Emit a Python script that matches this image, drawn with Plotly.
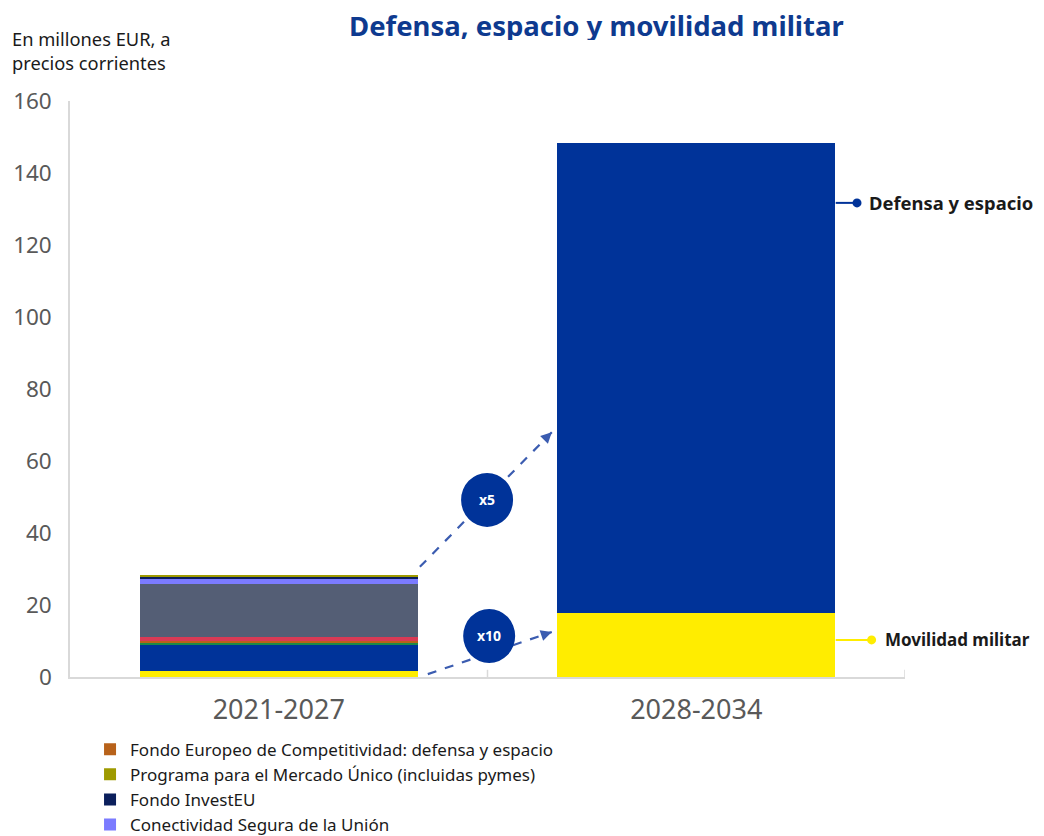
import plotly.graph_objects as go

categories = ["2021-2027", "2028-2034"]

# Stacked series, bottom to top (values in EUR bn)
movilidad_militar = [1.7, 17.7]
defensa_espacio_2028 = [None, 130.6]
fondo_defensa = [7.4, None]
serie_verde = [0.45, None]
fondo_competitividad = [0.45, None]
serie_roja = [1.1, None]
programa_espacial = [14.6, None]
conectividad_segura = [1.6, None]
fondo_investeu = [0.75, None]
mercado_unico = [0.4, None]

y_ticks = [0, 20, 40, 60, 80, 100, 120, 140, 160]

FONT = "Noto Sans"
BLUE = "#003399"
YELLOW = "#FFED00"
GREY_TXT = "#595959"

series = [
    ("Movilidad militar", movilidad_militar, YELLOW, False, None),
    ("Defensa y espacio", defensa_espacio_2028, BLUE, False, None),
    ("Fondo Europeo de Defensa", fondo_defensa, BLUE, False, None),
    ("Otros", serie_verde, "#1E8A45", False, None),
    ("Fondo Europeo de Competitividad: defensa y espacio", fondo_competitividad, "#B8621A", True, 1),
    ("Otros programas", serie_roja, "#D93A55", False, None),
    ("Programa Espacial", programa_espacial, "#545E75", False, None),
    ("Conectividad Segura de la Unión", conectividad_segura, "#7B7BFF", True, 4),
    ("Fondo InvestEU", fondo_investeu, "#0B1F5C", True, 3),
    ("Programa para el Mercado Único (incluidas pymes)", mercado_unico, "#9E9A00", True, 2),
]

fig = go.Figure()
for name, vals, color, show, rank in series:
    fig.add_trace(go.Bar(
        x=[0, 1], y=vals, name=name, marker=dict(color=color, line=dict(width=0)),
        showlegend=show, legendrank=rank if rank else 1000, hoverinfo="skip",
    ))

# page body has an 8px margin, so the figure is 8px smaller and shifted
fig.update_layout(
    barmode="stack",
    bargap=0.334,
    width=1036, height=828,
    margin=dict(l=62, r=139, t=93, b=159, autoexpand=False),
    plot_bgcolor="white", paper_bgcolor="white",
    font=dict(family=FONT, color="#1a1a1a"),
    showlegend=True,
    legend=dict(x=0.024, y=-0.095, xanchor="left", yanchor="top",
                orientation="v", traceorder="normal",
                font=dict(size=17, color="#1a1a1a", family=FONT),
                tracegroupgap=0, itemclick=False, bgcolor="rgba(0,0,0,0)"),
    xaxis=dict(range=[-0.5, 1.5], tickmode="array", tickvals=[0, 1], ticktext=categories,
               showline=True, linecolor="#d9d9d9", linewidth=1.5,
               ticks="", showgrid=False, zeroline=False,
               tickfont=dict(size=27, color=GREY_TXT), ticklabelstandoff=8),
    yaxis=dict(range=[0, 160], tickvals=y_ticks, showline=True, linecolor="#d9d9d9",
               linewidth=1.5, showgrid=False, zeroline=False, ticks="",
               tickfont=dict(size=22.5, color=GREY_TXT), ticklabelstandoff=12),
)

# boundary ticks on x axis (pointing up)
for xb in [0.5, 1.5]:
    fig.add_shape(type="line", xref="x", yref="y", x0=xb, x1=xb, y0=0, y1=2.0,
                  line=dict(color="#d9d9d9", width=1.5))

# Title and axis unit
fig.add_annotation(text="<b>Defensa, espacio y movilidad militar</b>", xref="paper", yref="paper",
                   x=(596 - 70) / 835, y=1 + (101 - 24.5) / 576, xanchor="center", yanchor="middle",
                   height=30, valign="middle",
                   showarrow=False, font=dict(size=27.5, color="#0E3A8F", family=FONT))
fig.add_annotation(text="En millones EUR, a<br>precios corrientes", xref="paper", yref="paper",
                   x=-(70 - 10) / 835, y=1 + (101 - 24) / 576, xanchor="left", yanchor="top",
                   align="left", showarrow=False, font=dict(size=18.3, color="#1a1a1a", family=FONT))

# Right-hand labels
lab_blue_y = 131.7
lab_yel_y = 10.3
fig.add_shape(type="line", xref="x", yref="y", x0=1.334, x1=1.385, y0=lab_blue_y, y1=lab_blue_y,
              line=dict(color=BLUE, width=2))
fig.add_trace(go.Scatter(x=[1.385], y=[lab_blue_y], mode="markers", marker=dict(color=BLUE, size=9),
                         showlegend=False, hoverinfo="skip", cliponaxis=False))
fig.add_annotation(text="<b>Defensa y espacio</b>", xref="x", yref="y", x=1.410, y=lab_blue_y,
                   xanchor="left", yanchor="middle", showarrow=False,
                   font=dict(size=18.4, color="#1a1a1a", family=FONT))
fig.add_shape(type="line", xref="x", yref="y", x0=1.334, x1=1.42, y0=lab_yel_y, y1=lab_yel_y,
              line=dict(color=YELLOW, width=2))
fig.add_trace(go.Scatter(x=[1.42], y=[lab_yel_y], mode="markers", marker=dict(color=YELLOW, size=9),
                         showlegend=False, hoverinfo="skip", cliponaxis=False))
fig.add_annotation(text="<b>Movilidad militar</b>", xref="x", yref="y", x=1.447, y=lab_yel_y,
                   xanchor="left", yanchor="middle", showarrow=False,
                   font=dict(size=17, color="#1a1a1a", family=FONT))

# Dashed growth arrows
ARROW = "#3B5CB0"
arrows = [((0.338, 30.6), (0.654, 68.0), (-8, 8)), ((0.357, 0.8), (0.654, 12.5), (-9.5, 3.2))]
for (x0, y0), (x1, y1), (ax, ay) in arrows:
    fig.add_shape(type="line", xref="x", yref="y", x0=x0, y0=y0, x1=x1, y1=y1,
                  line=dict(color=ARROW, width=2.2, dash="dash"))
    fig.add_annotation(x=x1, y=y1, xref="x", yref="y", ax=ax, ay=ay, text="", showarrow=True,
                       arrowhead=2, arrowsize=1.1, arrowwidth=2, arrowcolor=ARROW)

# Multiplier circles
for cx, cy, label in [(0.499, 49.2, "x5"), (0.504, 11.4, "x10")]:
    fig.add_shape(type="circle", xref="x", yref="y", xsizemode="pixel", ysizemode="pixel",
                  xanchor=cx, yanchor=cy, x0=-26, x1=26, y0=-27, y1=27,
                  fillcolor=BLUE, line=dict(width=0))
    fig.add_annotation(text=f"<b>{label}</b>", x=cx, y=cy, xref="x", yref="y", showarrow=False,
                       font=dict(size=14, color="white", family=FONT))

fig.write_html("out.html")
